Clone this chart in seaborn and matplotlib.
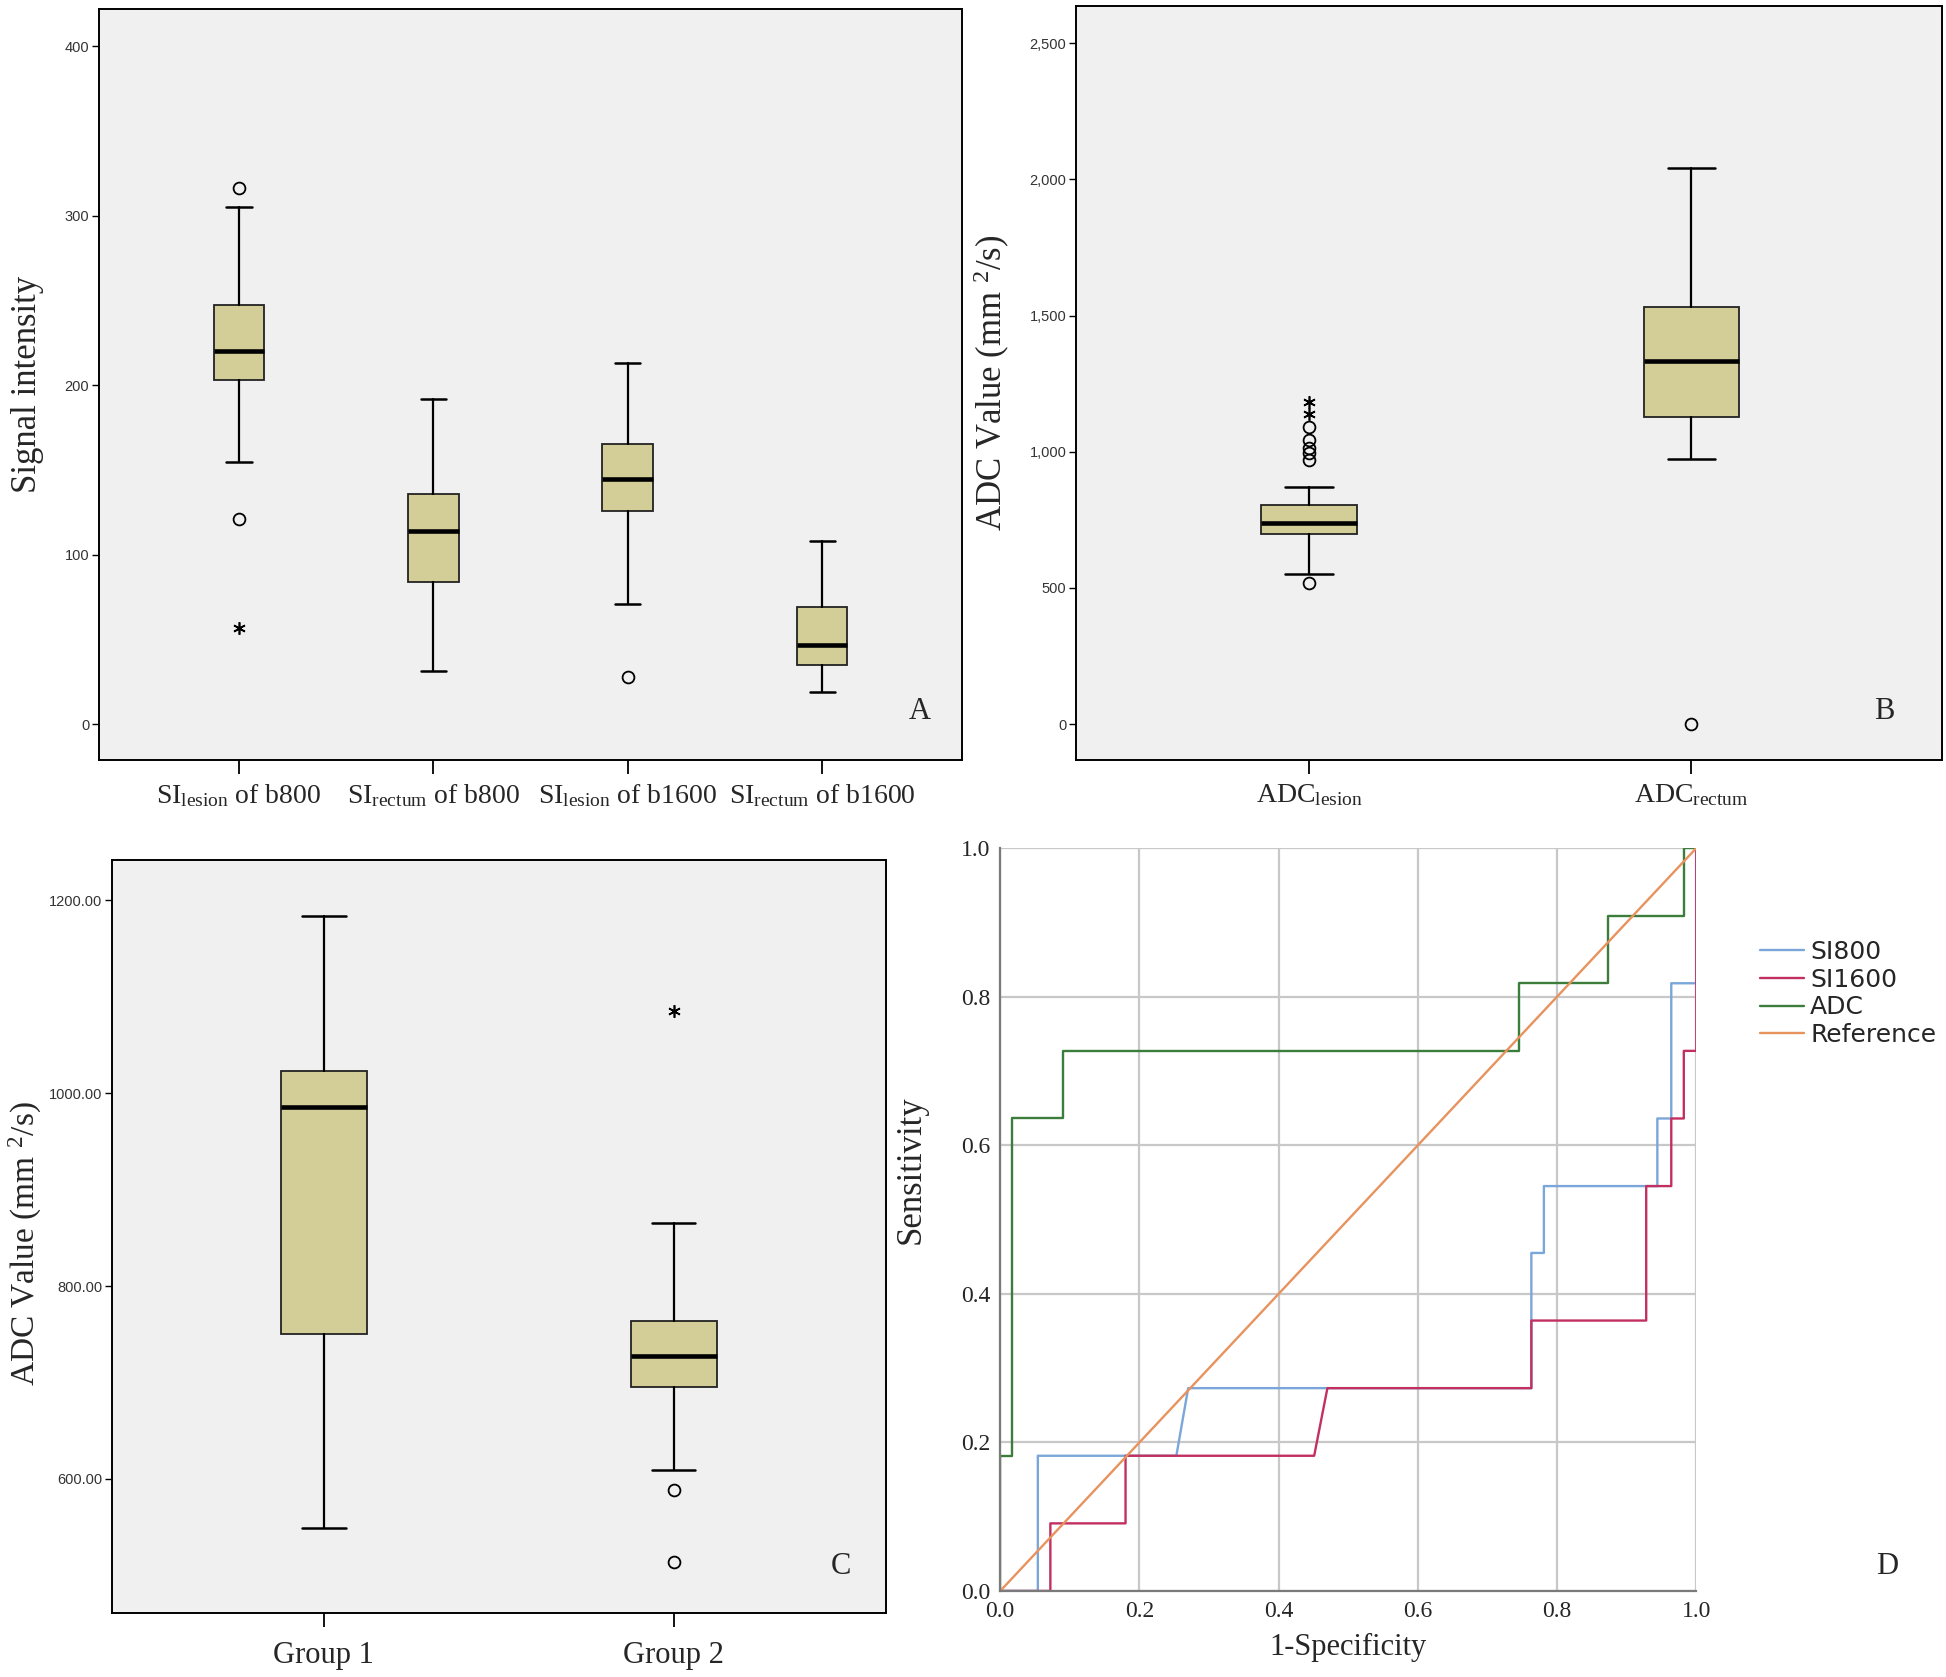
import matplotlib
matplotlib.use('Agg')
import matplotlib.pyplot as plt
import numpy as np
import seaborn as sns

# panel A - signal intensity
si_labels = [r'SI$_{\mathrm{lesion}}$ of b800', r'SI$_{\mathrm{rectum}}$ of b800',
             r'SI$_{\mathrm{lesion}}$ of b1600', r'SI$_{\mathrm{rectum}}$ of b1600']
si_whislo = [154.6, 31.5, 71, 19]
si_q1 = [203, 84, 126, 35]
si_med = [220.5, 114, 145, 47]
si_q3 = [247.6, 136, 165.5, 69]
si_whishi = [305, 192, 213, 108]
si_circles = [[316.5, 121], [], [28], []]
si_stars = [[57], [], [], []]

# panel B - ADC lesion / rectum
adc_labels = [r'ADC$_{\mathrm{lesion}}$', r'ADC$_{\mathrm{rectum}}$']
adc_whislo = [551, 973]
adc_q1 = [697, 1126]
adc_med = [737, 1333]
adc_q3 = [805, 1531]
adc_whishi = [870, 2041]
adc_circles = [[518, 971, 994, 1013, 1042, 1090], [0]]
adc_stars = [[1138, 1184], []]

# panel C - groups
grp_labels = ['Group 1', 'Group 2']
grp_whislo = [549, 609]
grp_q1 = [750, 695]
grp_med = [986, 727]
grp_q3 = [1023, 764]
grp_whishi = [1184, 865]
grp_circles = [[], [588, 514]]
grp_stars = [[], [1085]]

# panel D - ROC
si800_fpr = [0, 0.054, 0.054, 0.253, 0.27, 0.763, 0.763, 0.781, 0.781, 0.944, 0.944, 0.964, 0.964, 1.0, 1.0]
si800_tpr = [0, 0, 0.182, 0.182, 0.273, 0.273, 0.455, 0.455, 0.545, 0.545, 0.636, 0.636, 0.818, 0.818, 1.0]
si1600_fpr = [0, 0.072, 0.072, 0.18, 0.18, 0.451, 0.47, 0.763, 0.763, 0.928, 0.928, 0.964, 0.964, 0.982, 0.982, 1.0, 1.0]
si1600_tpr = [0, 0, 0.091, 0.091, 0.182, 0.182, 0.273, 0.273, 0.364, 0.364, 0.545, 0.545, 0.636, 0.636, 0.727, 0.727, 1.0]
adc_fpr = [0, 0, 0.017, 0.017, 0.09, 0.09, 0.745, 0.745, 0.873, 0.873, 0.982, 0.982, 1.0]
adc_tpr = [0, 0.182, 0.182, 0.636, 0.636, 0.727, 0.727, 0.818, 0.818, 0.909, 0.909, 1.0, 1.0]
ref_fpr = [0, 1]
ref_tpr = [0, 1]

sns.set_style('white')
plt.rcParams['font.family'] = ['Liberation Serif', 'DejaVu Serif']
plt.rcParams['mathtext.fontset'] = 'custom'
plt.rcParams['mathtext.rm'] = 'Liberation Serif'
plt.rcParams['mathtext.it'] = 'Liberation Serif:italic'
plt.rcParams['mathtext.bf'] = 'Liberation Serif:bold'

cor_caixa = '#d3ce97'
fundo = '#f0f0f0'
fonte_num = ['Liberation Sans Narrow', 'Liberation Sans']


def caixas(ax, labels, lo, q1, med, q3, hi, circulos, estrelas, largura, tam_label):
    stats = []
    for i in range(len(labels)):
        stats.append(dict(label=labels[i], whislo=lo[i], q1=q1[i], med=med[i], q3=q3[i],
                          whishi=hi[i], fliers=np.array(circulos[i], dtype=float)))
    ax.bxp(stats, positions=list(range(len(labels))), widths=largura, patch_artist=True,
           boxprops=dict(facecolor=cor_caixa, edgecolor='#222222', linewidth=1.3),
           medianprops=dict(color='black', linewidth=3.3),
           whiskerprops=dict(color='black', linewidth=1.6),
           capprops=dict(color='black', linewidth=1.8),
           flierprops=dict(marker='o', markerfacecolor='none', markeredgecolor='black',
                           markersize=8.5, markeredgewidth=1.3, linestyle='none'))
    for i, s in enumerate(estrelas):
        if s:
            ax.plot([i] * len(s), s, linestyle='none', marker=(6, 2, 0), color='black',
                    markersize=9, markeredgewidth=1.2)
    ax.set_facecolor(fundo)
    for sp in ax.spines.values():
        sp.set_color('black')
        sp.set_linewidth(1.4)
        sp.set_visible(True)
    ax.set_xticks(range(len(labels)))
    ax.set_xticklabels(labels, fontsize=tam_label)
    ax.tick_params(axis='x', length=10, width=1.3, direction='out', color='black', pad=6, bottom=True)
    ax.tick_params(axis='y', length=5, width=1.0, direction='out', color='black', pad=2, left=True)


fig = plt.figure(figsize=(19.46, 16.77), dpi=100)
axA = fig.add_axes([0.0509, 0.5468, 0.4435, 0.4478])
axB = fig.add_axes([0.553, 0.5468, 0.445, 0.4496])
axC = fig.add_axes([0.0575, 0.0382, 0.3977, 0.449])
axD = fig.add_axes([0.514, 0.0513, 0.3577, 0.443])

# A
caixas(axA, si_labels, si_whislo, si_q1, si_med, si_q3, si_whishi, si_circles, si_stars, 0.26, 20)
axA.set_xlim(-0.72, 3.72)
axA.set_ylim(-21, 422)
axA.set_yticks([0, 100, 200, 300, 400])
axA.set_yticklabels(['0', '100', '200', '300', '400'])
axA.set_ylabel('Signal intensity', fontsize=25)
axA.yaxis.set_label_coords(-0.064, 0.5)
axA.text(0.951, 0.064, 'A', transform=axA.transAxes, fontsize=22, ha='center', va='center')

# B
caixas(axB, adc_labels, adc_whislo, adc_q1, adc_med, adc_q3, adc_whishi, adc_circles, adc_stars, 0.25, 20)
axB.set_xlim(-0.61, 1.656)
axB.set_ylim(-132, 2637)
axB.set_yticks([0, 500, 1000, 1500, 2000, 2500])
axB.set_yticklabels(['{:,}'.format(v) for v in [0, 500, 1000, 1500, 2000, 2500]])
axB.set_ylabel(r'ADC Value (mm $^{2}$/s)', fontsize=25)
axB.yaxis.set_label_coords(-0.074, 0.5)
axB.text(0.933, 0.064, 'B', transform=axB.transAxes, fontsize=22, ha='center', va='center')

# C
caixas(axC, grp_labels, grp_whislo, grp_q1, grp_med, grp_q3, grp_whishi, grp_circles, grp_stars, 0.247, 22)
axC.set_xlim(-0.606, 1.606)
axC.set_ylim(461, 1242)
axC.set_yticks([600, 800, 1000, 1200])
axC.set_yticklabels(['%.2f' % v for v in [600, 800, 1000, 1200]])
axC.tick_params(axis='x', pad=10)
axC.set_ylabel(r'ADC Value (mm $^{2}$/s)', fontsize=24)
axC.yaxis.set_label_coords(-0.088, 0.49)
axC.text(0.942, 0.062, 'C', transform=axC.transAxes, fontsize=22, ha='center', va='center')

for ax in [axA, axB, axC]:
    for lbl in ax.get_yticklabels():
        lbl.set_fontfamily(fonte_num)
        lbl.set_fontsize(10.5)
        lbl.set_color('#333333')

# D
roc = [('SI800', si800_fpr, si800_tpr, '#7aa6d9'),
       ('SI1600', si1600_fpr, si1600_tpr, '#c2305f'),
       ('ADC', adc_fpr, adc_tpr, '#3c7d3c'),
       ('Reference', ref_fpr, ref_tpr, '#e8925d')]
for nome, fx, fy, cor in roc:
    sns.lineplot(x=fx, y=fy, sort=False, estimator=None, color=cor, linewidth=1.7, ax=axD)
linhas = axD.get_lines()[:4]
axD.set_xlim(0, 1)
axD.set_ylim(0, 1)
axD.set_xticks([0, 0.2, 0.4, 0.6, 0.8, 1.0])
axD.set_yticks([0, 0.2, 0.4, 0.6, 0.8, 1.0])
axD.set_xticklabels(['0.0', '0.2', '0.4', '0.6', '0.8', '1.0'])
axD.set_yticklabels(['0.0', '0.2', '0.4', '0.6', '0.8', '1.0'])
axD.grid(True, color='#c8c8c8', linewidth=1.6)
axD.set_axisbelow(True)
axD.tick_params(length=0, labelsize=17, pad=7)
for lado in ['top', 'right']:
    axD.spines[lado].set_visible(False)
for lado in ['left', 'bottom']:
    axD.spines[lado].set_color('#7a7a7a')
    axD.spines[lado].set_linewidth(1.6)
axD.set_xlabel('1-Specificity', fontsize=22, labelpad=8)
axD.set_ylabel('Sensitivity', fontsize=25)
axD.yaxis.set_label_coords(-0.105, 0.567)
fig.text(0.970, 0.066, 'D', fontsize=22, ha='center', va='center')

fig.legend(linhas, [r[0] for r in roc], loc='upper left', bbox_to_anchor=(0.9045, 0.4395),
           frameon=False, borderpad=0, borderaxespad=0, handlelength=1.75, handletextpad=0.25,
           labelspacing=0.15, prop={'family': 'DejaVu Sans', 'size': 18})

fig.savefig('out.png', dpi=100, facecolor='white')
